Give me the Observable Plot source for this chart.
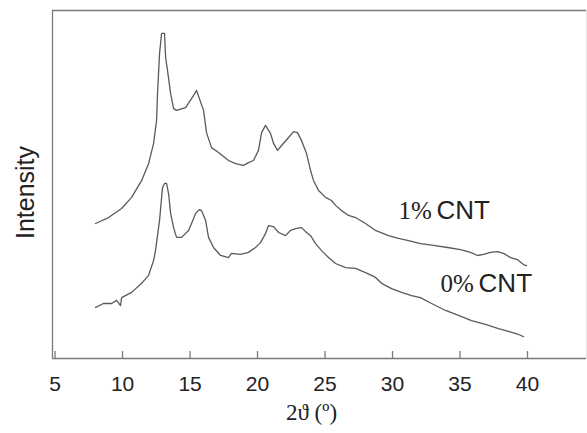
<!DOCTYPE html>
<html><head><meta charset="utf-8">
<script src="https://cdn.jsdelivr.net/npm/d3@7"></script>
<script src="https://cdn.jsdelivr.net/npm/@observablehq/plot@0.6"></script>
<style>html,body{margin:0;padding:0;background:#fff}svg{display:block}</style>
</head><body><div id="chart"></div>
<script>
const seriesNames = ["1% CNT", "0% CNT"];
const seriesPct = ["1%", "0%"];
const seriesTag = ["CNT", "CNT"];

// 1% CNT
const theta1 = [8.00, 8.96, 9.93, 10.67, 11.41, 11.93, 12.30, 12.52, 12.59, 12.74, 12.89, 13.11, 13.19, 13.33, 13.56, 13.78, 14.00, 14.67, 15.11, 15.48, 16.00, 16.22, 16.59, 17.11, 17.85, 18.37, 18.96, 19.33, 19.70, 20.07, 20.30, 20.59, 20.96, 21.19, 21.48, 21.78, 22.30, 22.67, 22.96, 23.26, 23.63, 23.93, 24.15, 24.52, 25.04, 25.48, 25.78, 26.22, 26.74, 27.26, 28.00, 28.74, 29.70, 30.44, 31.19, 32.07, 33.04, 34.07, 35.04, 35.78, 36.30, 36.74, 37.26, 37.78, 38.22, 38.74, 39.26, 39.70, 39.93];
const int1 = [38.8, 40.5, 43.1, 46.3, 51.1, 56.0, 61.8, 68.4, 76.1, 87.6, 93.4, 93.4, 86.5, 82.8, 76.1, 71.8, 71.3, 72.1, 74.7, 77.0, 71.3, 64.9, 60.6, 59.2, 56.9, 56.0, 55.5, 56.3, 56.9, 59.8, 64.9, 67.0, 64.7, 61.8, 59.8, 61.2, 63.5, 65.2, 64.9, 62.6, 58.9, 54.0, 51.1, 48.3, 46.3, 45.4, 44.0, 42.5, 41.1, 40.5, 38.8, 36.8, 35.3, 34.5, 33.9, 33.0, 32.5, 31.9, 31.3, 30.5, 29.6, 29.9, 30.5, 30.7, 30.2, 29.0, 28.4, 27.0, 26.7];

// 0% CNT
const theta0 = [8.00, 8.59, 9.19, 9.56, 9.85, 9.93, 10.67, 11.41, 11.93, 12.30, 12.44, 12.74, 12.96, 13.11, 13.26, 13.41, 13.56, 13.78, 14.00, 14.37, 14.89, 15.11, 15.41, 15.70, 15.85, 16.15, 16.37, 16.74, 17.26, 17.85, 18.07, 18.74, 19.33, 19.85, 20.22, 20.59, 20.81, 21.19, 21.56, 22.07, 22.44, 22.89, 23.26, 23.63, 23.93, 24.30, 24.74, 25.26, 25.78, 26.52, 27.26, 28.00, 28.44, 28.74, 29.19, 29.93, 30.67, 31.41, 32.07, 32.89, 33.93, 34.89, 35.85, 36.89, 37.85, 38.59, 39.33, 39.70];
const int0 = [14.7, 15.8, 15.8, 16.7, 15.2, 17.5, 19.0, 21.6, 23.9, 28.2, 31.0, 39.7, 49.1, 50.3, 50.3, 47.4, 41.7, 37.6, 34.8, 34.8, 36.8, 38.8, 41.7, 42.8, 42.5, 39.7, 34.8, 31.9, 29.6, 29.0, 30.2, 29.9, 30.5, 31.9, 33.3, 35.9, 38.2, 37.9, 36.2, 35.3, 36.8, 37.4, 37.6, 36.2, 35.3, 33.0, 31.0, 29.0, 27.3, 26.1, 25.9, 24.7, 23.9, 23.3, 21.6, 20.1, 19.0, 18.1, 17.5, 15.8, 13.8, 12.4, 10.9, 9.8, 8.6, 7.8, 6.9, 6.3];

const xTicks = [5, 10, 15, 20, 25, 30, 35, 40];
const xDomain = [4.81, 44.37];
const yDomain = [0, 100];
const xLabel = "2ϑ (º)";
const yLabel = "Intensity";

const rows = [
  ...theta1.map((x, i) => ({series: seriesNames[0], x, y: int1[i]})),
  ...theta0.map((x, i) => ({series: seriesNames[1], x, y: int0[i]}))
];
const labelRows = [
  {pct: seriesPct[0], tag: seriesTag[0], x: 30.44, y: 40.2},
  {pct: seriesPct[1], tag: seriesTag[1], x: 33.56, y: 19.0}
];

const frameColor = "#7a7a7a";
const tickLen = 2; // inward tick length in y units (~7px)
const chart = Plot.plot({
  width: 587,
  height: 433,
  marginLeft: 52,
  marginRight: 1,
  marginTop: 10,
  marginBottom: 75,
  x: {domain: xDomain},
  y: {domain: yDomain},
  style: {fontFamily: "'Liberation Sans', Arial, sans-serif", background: "#fff", color: "#222"},
  marks: [
    Plot.ruleY([yDomain[1]], {stroke: frameColor, strokeWidth: 1.3}),
    Plot.ruleX([xDomain[1]], {stroke: "#e6e6e6", strokeWidth: 1}),
    Plot.ruleX([xDomain[0]], {stroke: frameColor, strokeWidth: 1.3}),
    Plot.ruleY([yDomain[0]], {stroke: frameColor, strokeWidth: 1.3}),
    Plot.ruleX(xTicks, {y1: yDomain[0], y2: tickLen, stroke: frameColor, strokeWidth: 1.3}),
    Plot.axisX({ticks: xTicks, tickSize: 0, tickPadding: 18, fontSize: 21, label: null, fill: "#222"}),
    Plot.axisY({ticks: [], label: null}),
    Plot.line(rows, {x: "x", y: "y", z: "series", stroke: "#5a5a5a", strokeWidth: 1.3, curve: "linear"}),
    Plot.text(labelRows, {x: "x", y: "y", text: "pct", textAnchor: "start", lineAnchor: "bottom", fontFamily: "'Liberation Serif', 'Times New Roman', serif", fontSize: 25, fill: "#222"}),
    Plot.text(labelRows, {x: "x", y: "y", text: "tag", dx: 38, textAnchor: "start", lineAnchor: "bottom", fontSize: 26, fill: "#222"}),
    Plot.text([xLabel], {frameAnchor: "bottom", dx: -8, dy: 61, textAnchor: "middle", lineAnchor: "bottom", fontFamily: "'Liberation Serif', 'Times New Roman', serif", fontSize: 23, fill: "#222"}),
    Plot.text([yLabel], {frameAnchor: "left", rotate: -90, dx: -19, dy: 8, textAnchor: "middle", lineAnchor: "bottom", fontSize: 25, fill: "#222"})
  ]
});
document.getElementById("chart").appendChild(chart);
</script>
</body></html>
